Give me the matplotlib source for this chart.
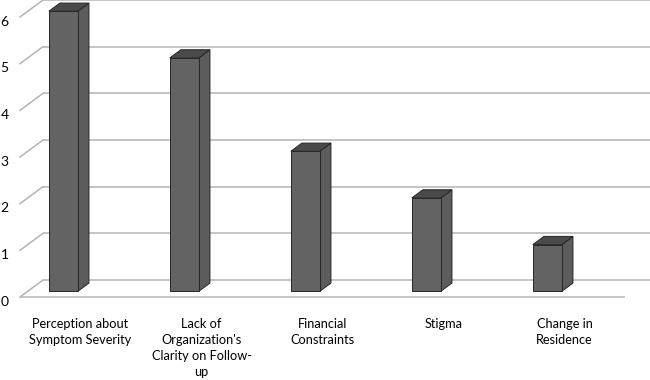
import matplotlib
matplotlib.use("Agg")
import matplotlib.pyplot as plt
from matplotlib.patches import Polygon

# ---- data ----
categories = ["Perception about\nSymptom Severity",
              "Lack of\nOrganization's\nClarity on Follow-\nup",
              "Financial\nConstraints",
              "Stigma",
              "Change in\nResidence"]
values = [6, 5, 3, 2, 1]
yticks = [0, 1, 2, 3, 4, 5, 6]

# ---- style / geometry constants ----
W, H, DPI = 650, 380, 100
DX, DY = 0.19, 0.364          # floor depth offset (category units, value units)
BAR_OFF = -0.326              # bar front-left relative to category centre
BAR_W = 0.24
D0, D1 = 0.34, 0.82           # bar depth extent (fraction of floor depth)
GRID = "#b4b4b4"
FONT = "Lato"

fig = plt.figure(figsize=(W / DPI, H / DPI), dpi=DPI)
ax = fig.add_axes([20 / W, (H - 297) / H, 605 / W, 280 / H])
ax.set_xlim(-0.5, 4.5)
ax.set_ylim(0, 6)
ax.axis("off")

n = len(categories)
x0, x1 = -0.5, n - 0.5

# back wall gridlines and left wall diagonals
for v in yticks:
    ax.plot([x0 + DX, x1 + DX + 0.05], [v + DY, v + DY], color=GRID, lw=1.1,
            clip_on=False, solid_capstyle="butt", zorder=1)
    ax.plot([x0, x0 + DX], [v, v + DY], color=GRID, lw=1.1, clip_on=False, zorder=1)
    ax.text(x0 - 0.095, v - 0.1, str(v), ha="right", va="center",
            fontsize=10, family=FONT, color="black", clip_on=False)

# front floor line
ax.plot([x0, x1], [0, 0], color=GRID, lw=1.1, clip_on=False,
        solid_capstyle="butt", zorder=1)


def P(x, y, d):
    return (x + d * DX, y + d * DY)


for i, v in enumerate(values):
    xl = i + BAR_OFF
    xr = xl + BAR_W
    front = [P(xl, 0, D0), P(xr, 0, D0), P(xr, v, D0), P(xl, v, D0)]
    side = [P(xr, 0, D0), P(xr, 0, D1), P(xr, v, D1), P(xr, v, D0)]
    top = [P(xl, v, D0), P(xr, v, D0), P(xr, v, D1), P(xl, v, D1)]
    for pts, col in ((side, "#5c5c5c"), (front, "#636363"), (top, "#4a4a4a")):
        ax.add_patch(Polygon(pts, closed=True, facecolor=col, edgecolor="#262626",
                             lw=0.7, joinstyle="miter", clip_on=False, zorder=3))

# category labels
for i, lab in enumerate(categories):
    ax.text(i, -0.44, lab, ha="center", va="top", fontsize=9.2, family=FONT,
            linespacing=1.42, color="black", clip_on=False)

fig.savefig("out.png", dpi=DPI, facecolor="white")
